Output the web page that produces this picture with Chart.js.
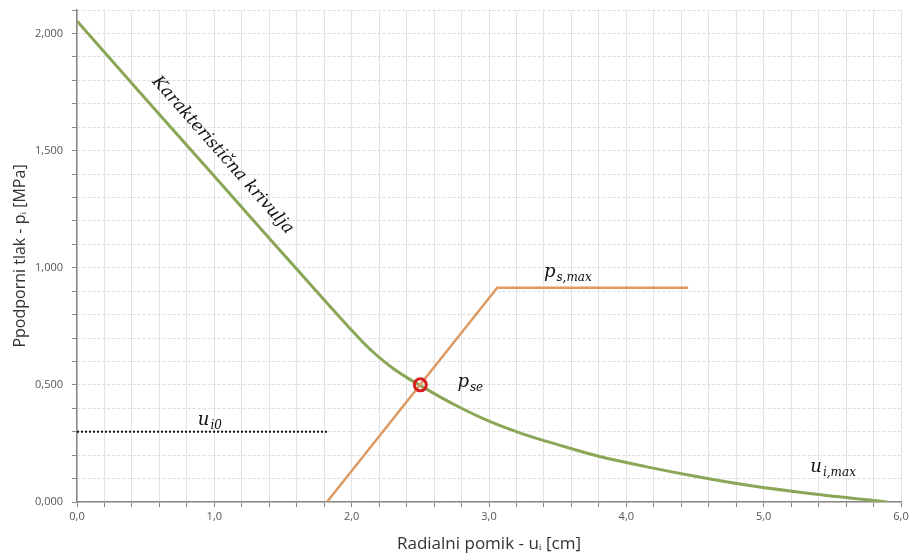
<!DOCTYPE html>
<html>
<head>
<meta charset="utf-8">
<script src="https://cdn.jsdelivr.net/npm/chart.js@4.4.1/dist/chart.umd.min.js"></script>
<style>
html,body{margin:0;padding:0;background:#fff;}
#wrap{width:910px;height:554px;position:relative;}
</style>
</head>
<body>
<div id="wrap"><canvas id="c" width="910" height="554"></canvas></div>
<script>
// Characteristic ground curve (u in cm, p in MPa)
const curveU = [0, 0.5, 1.0, 1.5, 1.75, 1.9, 2.0, 2.1, 2.2, 2.3, 2.4, 2.5, 2.75, 3.0, 3.25, 3.5, 3.8, 4.15, 4.5, 4.9, 5.35, 5.9];
const curveP = [2.053, 1.72, 1.39, 1.06, 0.895, 0.797, 0.733, 0.671, 0.617, 0.571, 0.532, 0.497, 0.415, 0.345, 0.29, 0.245, 0.195, 0.15, 0.11, 0.07, 0.035, 0.0];
// Support line
const supportU = [1.82, 3.06, 4.45];
const supportP = [0, 0.915, 0.915];
// u_i0 dotted line
const u0U = [0, 1.82];
const u0P = [0.3, 0.3];
// Equilibrium point
const eqU = [2.5];
const eqP = [0.5];
// Axis ranges / ticks
const xMin = 0, xMax = 6, xStep = 0.2, xLabelStep = 1;
const yMin = 0, yMax = 2.1, yStep = 0.1, yLabelStep = 0.5;
// Texts
const xTitle = 'Radialni pomik - u\u1D62 [cm]';
const yTitle = 'Ppodporni tlak - p\u1D62 [MPa]';
const curveLabel = 'Karakteristična krivulja';

const toPts = (xs, ys) => xs.map((x, i) => ({x: x, y: ys[i]}));

function drawMath(ctx, x, y, main, sub) {
  ctx.save();
  ctx.fillStyle = '#111';
  ctx.textBaseline = 'alphabetic';
  ctx.textAlign = 'left';
  ctx.font = 'italic 18px "DejaVu Serif"';
  ctx.fillText(main, x, y);
  const w = ctx.measureText(main).width;
  ctx.font = 'italic 12px "DejaVu Serif"';
  ctx.fillText(sub, x + w + 1, y + 4);
  ctx.restore();
}

const annot = {
  id: 'annot',
  afterDatasetsDraw(chart) {
    const ctx = chart.ctx;
    const xs = chart.scales.x, ys = chart.scales.y;
    const px = v => xs.getPixelForValue(v), py = v => ys.getPixelForValue(v);
    const ax = px(curveU[0]), ay = py(curveP[0]);
    const bx = px(curveU[3]), by = py(curveP[3]);
    const ang = Math.atan2(by - ay, bx - ax);
    ctx.save();
    ctx.translate(px(1.06), py(1.48));
    ctx.rotate(ang);
    ctx.font = 'italic 17px "DejaVu Serif"';
    ctx.fillStyle = '#111';
    ctx.textAlign = 'center';
    ctx.textBaseline = 'middle';
    ctx.fillText(curveLabel, 0, 0);
    ctx.restore();
    drawMath(ctx, px(3.40), py(0.96), 'p', 's,max');
    drawMath(ctx, px(2.77), py(0.49), 'p', 'se');
    drawMath(ctx, px(0.88), py(0.33), 'u', 'i0');
    drawMath(ctx, px(5.34), py(0.13), 'u', 'i,max');
  }
};

const isMult = (v, s) => Math.abs(v / s - Math.round(v / s)) < 1e-6;

new Chart(document.getElementById('c'), {
  type: 'scatter',
  data: {
    datasets: [
      {
        label: 'eq',
        data: toPts(eqU, eqP),
        showLine: false,
        pointRadius: 6,
        pointBorderWidth: 3,
        pointBorderColor: '#d41f1f',
        pointBackgroundColor: 'rgba(0,0,0,0)',
        order: 0
      },
      {
        label: 'curve',
        data: toPts(curveU, curveP),
        showLine: true,
        borderColor: '#8aa657',
        borderWidth: 3,
        pointRadius: 0,
        cubicInterpolationMode: 'monotone',
        order: 2
      },
      {
        label: 'support',
        data: toPts(supportU, supportP),
        showLine: true,
        borderColor: '#dd9a63',
        borderWidth: 2.5,
        pointRadius: 0,
        tension: 0,
        order: 1
      },
      {
        label: 'u0',
        data: toPts(u0U, u0P),
        showLine: true,
        borderColor: '#111',
        borderWidth: 2,
        borderDash: [2, 2],
        pointRadius: 0,
        order: 3
      }
    ]
  },
  options: {
    responsive: false,
    animation: false,
    layout: {padding: {top: 10, left: 8, right: 7, bottom: 0}},
    plugins: {legend: {display: false}, tooltip: {enabled: false}},
    scales: {
      x: {
        type: 'linear',
        min: xMin, max: xMax,
        afterFit: s => { s.height = 52; s.paddingLeft = 0; s.paddingRight = 0; },
        ticks: {
          stepSize: xStep,
          autoSkip: false,
          maxRotation: 0,
          color: '#555',
          font: {family: 'Open Sans', size: 11},
          padding: 3,
          callback: v => isMult(v, xLabelStep) ? v.toFixed(1).replace('.', ',') : ''
        },
        grid: {color: '#e3e3e3', lineWidth: 1, tickColor: '#888', tickLength: 5},
        border: {color: '#888', width: 1.5},
        title: {display: true, text: xTitle, color: '#333', font: {family: 'Open Sans', size: 17}, padding: {top: 0, bottom: 0}}
      },
      y: {
        type: 'linear',
        min: yMin, max: yMax,
        afterFit: s => { s.width = 69; s.paddingTop = 0; s.paddingBottom = 0; },
        ticks: {
          stepSize: yStep,
          autoSkip: false,
          color: '#555',
          font: {family: 'Open Sans', size: 11},
          padding: 9,
          callback: v => isMult(v, yLabelStep) ? v.toFixed(3).replace('.', ',') : ''
        },
        grid: {color: '#dcdcdc', lineWidth: 1, tickColor: '#888', tickLength: 5, tickBorderDash: []},
        border: {color: '#888', width: 1.5, dash: [3, 2]},
        title: {display: true, text: yTitle, color: '#333', font: {family: 'Open Sans', size: 16}, padding: {top: 3, bottom: 0}}
      }
    }
  },
  plugins: [annot]
});
</script>
</body>
</html>
